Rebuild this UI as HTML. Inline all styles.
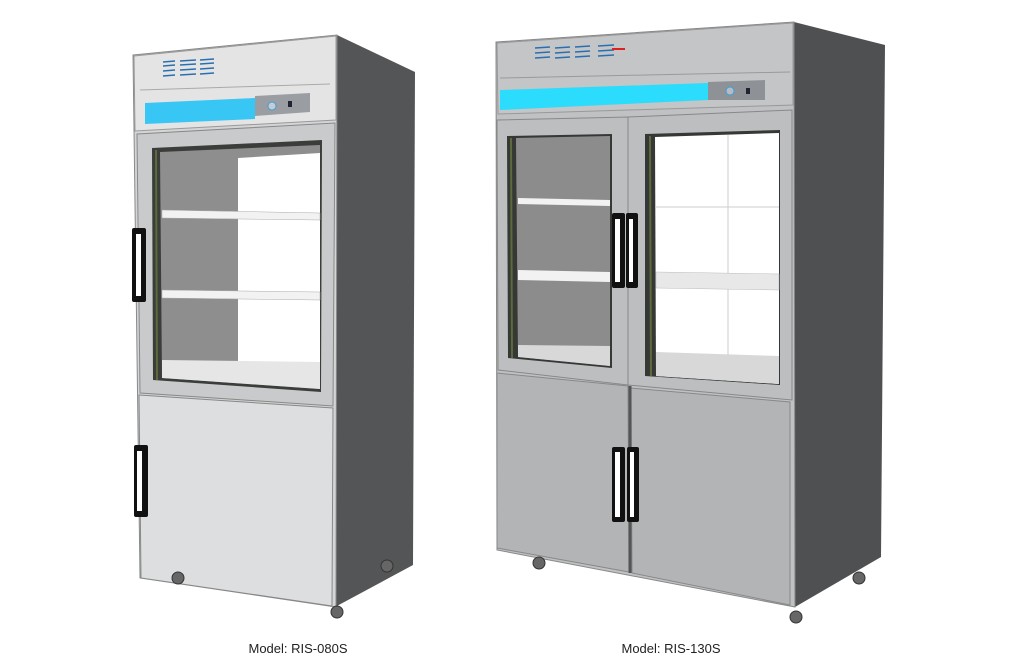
<!DOCTYPE html>
<html><head><meta charset="utf-8"><style>
html,body{margin:0;padding:0;background:#fff;width:1024px;height:671px;overflow:hidden}
svg{display:block}
text{font-family:"Liberation Sans",sans-serif;font-size:13px;fill:#222}
</style></head><body>
<svg width="1024" height="671" viewBox="0 0 1024 671">
<!-- LEFT FRIDGE -->
<polygon points="337,35 415,72 413,565 335,607" fill="#545556"/>
<polygon points="133,55 337,35 336,607 140,578" fill="#d4d5d6" stroke="#8a8a8a" stroke-width="1"/>
<!-- top panel -->
<polygon points="134,56 336,36 336,120 135,131" fill="#e4e4e4" stroke="#999"/>
<line x1="140" y1="90" x2="330" y2="84" stroke="#aaa"/>
<polygon points="145,103 255,98 255,119 145,124" fill="#38c6f4"/>
<polygon points="255,96 310,93 310,112 255,116" fill="#9a9ea2"/>
<circle cx="272" cy="106" r="4" fill="#c8ccd0" stroke="#3aa0e0"/>
<rect x="288" y="101" width="4" height="6" fill="#223"/>
<g stroke="#2a6fb0" stroke-width="1.5">
<line x1="163" y1="62" x2="175" y2="61"/><line x1="180" y1="61" x2="196" y2="60"/><line x1="200" y1="60" x2="214" y2="59"/>
<line x1="163" y1="66" x2="175" y2="65"/><line x1="180" y1="65" x2="196" y2="64"/><line x1="200" y1="64" x2="214" y2="63"/>
<line x1="163" y1="71" x2="175" y2="70"/><line x1="180" y1="70" x2="196" y2="69"/><line x1="200" y1="69" x2="214" y2="68"/>
<line x1="163" y1="76" x2="175" y2="75"/><line x1="180" y1="75" x2="196" y2="74"/><line x1="200" y1="74" x2="214" y2="73"/>
</g>
<!-- glass door -->
<polygon points="137,134 335,123 333,406 140,393" fill="#c9cacb" stroke="#888"/>
<polygon points="152,148 322,140 321,392 153,380" fill="#3a3d3a"/>
<polygon points="160,152 320,145 320,389 162,378" fill="#8e8e8e"/>
<polygon points="238,158 320,153 320,362 238,362" fill="#fff"/>
<polygon points="162,360 320,362 320,389 162,378" fill="#e6e6e6"/>
<polygon points="162,210 320,213 320,220 162,218" fill="#f2f2f2" stroke="#aaa" stroke-width=".5"/>
<polygon points="162,290 320,292 320,300 162,298" fill="#f2f2f2" stroke="#aaa" stroke-width=".5"/>
<line x1="156" y1="150" x2="157" y2="380" stroke="#5c6a3c" stroke-width="2"/>
<rect x="132" y="228" width="14" height="74" fill="#111" rx="2"/>
<rect x="136" y="234" width="5" height="62" fill="#fff"/>
<!-- lower door -->
<polygon points="139,395 333,408 332,606 141,578" fill="#dddedf" stroke="#888"/>
<rect x="134" y="445" width="14" height="72" fill="#111" rx="2"/>
<rect x="137" y="451" width="5" height="60" fill="#fff"/>
<circle cx="178" cy="578" r="6" fill="#666" stroke="#333"/>
<circle cx="337" cy="612" r="6" fill="#666" stroke="#333"/>
<circle cx="387" cy="566" r="6" fill="#666" stroke="#333"/>
<!-- RIGHT FRIDGE -->
<polygon points="794,22 885,45 881,557 795,607" fill="#4f5052"/>
<polygon points="496,42 794,22 795,607 497,550" fill="#bfc1c3" stroke="#888"/>
<polygon points="497,43 793,23 793,105 498,114" fill="#c3c5c7" stroke="#999"/>
<line x1="500" y1="78" x2="790" y2="72" stroke="#9a9a9a"/>
<polygon points="500,90 708,83 708,100 500,110" fill="#2cdcfc"/>
<polygon points="708,82 765,80 765,100 708,100" fill="#8e9296"/>
<circle cx="730" cy="91" r="4" fill="#b8bcc0" stroke="#3aa0e0"/>
<rect x="746" y="88" width="4" height="6" fill="#223"/>
<g stroke="#2a6fb0" stroke-width="1.5">
<line x1="535" y1="48" x2="550" y2="47"/><line x1="555" y1="48" x2="570" y2="47"/><line x1="575" y1="47" x2="590" y2="46"/><line x1="598" y1="46" x2="614" y2="45"/>
<line x1="535" y1="53" x2="550" y2="52"/><line x1="555" y1="53" x2="570" y2="52"/><line x1="575" y1="52" x2="590" y2="51"/><line x1="598" y1="51" x2="614" y2="50"/>
<line x1="535" y1="58" x2="550" y2="57"/><line x1="555" y1="58" x2="570" y2="57"/><line x1="575" y1="57" x2="590" y2="56"/><line x1="598" y1="56" x2="614" y2="55"/>
</g>
<line x1="612" y1="49" x2="625" y2="49" stroke="#e02020" stroke-width="2"/>
<!-- glass doors -->
<polygon points="497,120 628,117 628,385 498,370" fill="#bcbec0" stroke="#888"/>
<polygon points="628,117 792,110 792,400 628,385" fill="#bcbec0" stroke="#888"/>
<polygon points="507,136 612,134 612,368 508,358" fill="#353835"/>
<polygon points="516,138 610,136 610,366 518,357" fill="#8c8c8c"/>
<polygon points="518,198 610,200 610,206 518,204" fill="#f2f2f2"/>
<polygon points="518,270 610,272 610,282 518,280" fill="#f2f2f2"/>
<polygon points="518,345 610,346 610,366 518,357" fill="#d8d8d8"/>
<polygon points="645,134 780,130 780,385 645,376" fill="#353835"/>
<polygon points="655,137 779,133 779,384 656,376" fill="#fff"/>
<line x1="728" y1="135" x2="728" y2="355" stroke="#ccc"/>
<line x1="656" y1="207" x2="779" y2="207" stroke="#ccc"/>
<polygon points="656,272 779,274 779,290 656,288" fill="#e8e8e8" stroke="#bbb" stroke-width=".5"/>
<polygon points="656,352 779,356 779,384 656,376" fill="#d8d8d8"/>
<line x1="511" y1="138" x2="512" y2="358" stroke="#5c6a3c" stroke-width="2"/>
<line x1="650" y1="136" x2="651" y2="376" stroke="#5c6a3c" stroke-width="2"/>
<rect x="612" y="213" width="13" height="75" fill="#111" rx="2"/>
<rect x="615" y="219" width="5" height="63" fill="#fff"/>
<rect x="626" y="213" width="12" height="75" fill="#111" rx="2"/>
<rect x="629" y="219" width="4" height="63" fill="#fff"/>
<!-- lower doors -->
<polygon points="497,373 628,386 629,572 497,548" fill="#b2b4b6" stroke="#888"/>
<polygon points="631,388 790,402 790,605 632,573" fill="#b2b4b6" stroke="#888"/>
<line x1="630" y1="386" x2="630" y2="573" stroke="#555" stroke-width="3"/>
<rect x="612" y="447" width="13" height="75" fill="#111" rx="2"/>
<rect x="615" y="452" width="5" height="65" fill="#fff"/>
<rect x="627" y="447" width="12" height="75" fill="#111" rx="2"/>
<rect x="630" y="452" width="4" height="65" fill="#fff"/>
<circle cx="539" cy="563" r="6" fill="#666" stroke="#333"/>
<circle cx="796" cy="617" r="6" fill="#666" stroke="#333"/>
<circle cx="859" cy="578" r="6" fill="#666" stroke="#333"/>
<text x="298" y="653" text-anchor="middle">Model: RIS-080S</text>
<text x="671" y="653" text-anchor="middle">Model: RIS-130S</text>
</svg>
</body></html>
